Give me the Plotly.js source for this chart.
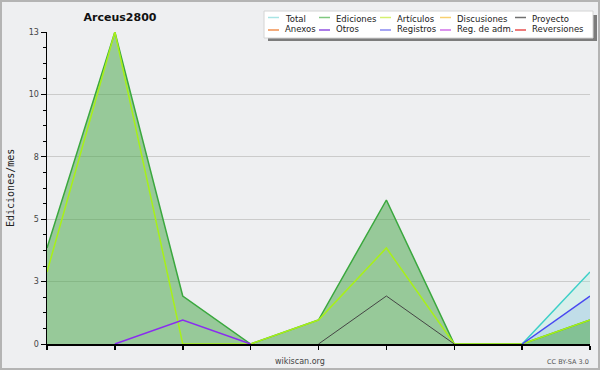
<!DOCTYPE html>
<html><head><meta charset="utf-8">
<script src="https://cdn.plot.ly/plotly-3.0.1.min.js"></script>
<style>html,body{margin:0;padding:0;background:#eeeff1;}#c{width:600px;height:370px;}</style>
</head><body><div id="c"></div>
<script>
// ---- data ----
const months = [0,1,2,3,4,5,6,7,8];
const seriesNames = ["Total","Ediciones","Artículos","Discusiones","Proyecto","Anexos","Otros","Registros","Reg. de adm.","Reversiones"];
const total       = [null,null,null,null,null,null,null,0,3];
const ediciones   = [4,13,2,0,1,6,0,0,1];
const articulos   = [3,13,0,0,1,4,0,0,1];
const discusiones = [null,null,null,null,null,null,null,null,null];
const proyecto    = [null,null,null,null,0,2,0,null,null];
const anexos      = [null,null,null,null,null,null,null,null,null];
const otros       = [null,0,1,0,null,null,null,null,null];
const registros   = [null,null,null,null,null,null,null,0,2];
const regAdm      = [null,null,null,null,null,null,null,null,null];
const reversiones = [null,null,null,null,null,null,null,null,null];
const yTickVals   = [0,2.6,5.2,7.8,10.4,13];
const yTickText   = ["0","3","5","8","10","13"];

// ---- styles ----
const lineColors = ["#3ccfc8","#3aa83e","#a8f018","#f0c040","#454545","#f08040","#8a2cf0","#4848f0","#d050e0","#e03030"];
const legendColors = ["#a8e4e4","#80c880","#d4f070","#f8d070","#707070","#f09050","#9050e0","#8888f0","#d070e8","#e85050"];
const allSeries = [total,ediciones,articulos,discusiones,proyecto,anexos,otros,registros,regAdm,reversiones];

const L=47,R=590,T=32,B=344;
const px=p=>(p-L)/(R-L), py=p=>(B-p)/(B-T);

const traces=[];
// fills first
const fills=[[0,"rgba(150,240,220,0.25)"],[7,"rgba(100,150,220,0.2)"],[1,"rgba(80,170,80,0.55)"]];
fills.forEach(([i,c])=>traces.push({x:months,y:allSeries[i],type:"scatter",mode:"none",fill:"tozeroy",fillcolor:c,showlegend:false,hoverinfo:"skip"}));
// lines
const order=[0,1,2,3,5,6,7,8,9,4];
order.forEach(i=>traces.push({x:months,y:allSeries[i],name:seriesNames[i],type:"scatter",mode:"lines",
  line:{color:lineColors[i],width:(i===4?1:1.5)},showlegend:false}));

// legend built from names/colors
const shapes=[
  {type:"rect",xref:"paper",yref:"paper",x0:px(1),x1:px(599),y0:py(1),y1:py(369),line:{color:"#b4b4b4",width:2},layer:"above"},
  {type:"rect",xref:"paper",yref:"paper",x0:px(268),x1:px(597),y0:py(15),y1:py(41),fillcolor:"#7c7c7c",line:{width:0},layer:"above"},
  {type:"rect",xref:"paper",yref:"paper",x0:px(264),x1:px(593),y0:py(11),y1:py(38),fillcolor:"#ffffff",line:{color:"#d4d4d4",width:1},layer:"above"}
];
const annotations=[];
const colX=[268,319,380,440,515];
const rowLineY=[17.5,30], rowTextY=[19,29];
seriesNames.forEach((n,i)=>{
  const col=i%5,row=Math.floor(i/5);
  shapes.push({type:"line",xref:"paper",yref:"paper",x0:px(colX[col]),x1:px(colX[col]+11),y0:py(rowLineY[row]),y1:py(rowLineY[row]),line:{color:legendColors[i],width:1.5},layer:"above"});
  annotations.push({xref:"paper",yref:"paper",x:px(colX[col]+15),y:py(rowTextY[row]),xanchor:"left",yanchor:"middle",showarrow:false,text:n,
    font:{family:"DejaVu Sans",size:8.5,color:"#222"}});
});
annotations.push({xref:"paper",yref:"paper",x:px(300),y:py(361),xanchor:"center",yanchor:"middle",showarrow:false,text:"wikiscan.org",font:{family:"DejaVu Sans",size:8,color:"#444"}});
annotations.push({xref:"paper",yref:"paper",x:px(591),y:py(362),xanchor:"right",yanchor:"middle",showarrow:false,text:"CC BY-SA 3.0",font:{family:"DejaVu Sans",size:6.5,color:"#555"}});
annotations.push({xref:"paper",yref:"paper",x:px(10),y:py(188),xanchor:"center",yanchor:"middle",showarrow:false,textangle:-90,text:"Ediciones/mes",font:{family:"DejaVu Sans Mono",size:10,color:"#222"}});

const layout={
  width:600,height:370,
  margin:{l:L,r:600-R,t:T,b:370-B,pad:0},
  paper_bgcolor:"#eeeff1",plot_bgcolor:"#eeeff1",
  title:{text:"Arceus2800",font:{family:"DejaVu Sans",size:11,color:"#111",weight:"bold"},xref:"container",yref:"container",x:120/600,y:1-17/370,xanchor:"center",yanchor:"middle"},
  xaxis:{range:[0,8],tickmode:"array",tickvals:months,showticklabels:false,ticks:"outside",ticklen:4,tickcolor:"#000",tickwidth:1.5,
    showgrid:false,zeroline:false,showline:true,linecolor:"#000",linewidth:2,fixedrange:true},
  yaxis:{range:[0,13],tickmode:"array",tickvals:yTickVals,ticktext:yTickText,ticks:"outside",ticklen:5,tickcolor:"#000",tickwidth:1,
    tickfont:{family:"DejaVu Sans",size:8,color:"#444"},showgrid:true,gridcolor:"#cbcbcb",gridwidth:1,zeroline:false,showline:true,linecolor:"#000",linewidth:1.5,
    minor:{tick0:0,dtick:0.65,ticks:"outside",ticklen:3,tickcolor:"#000",showgrid:false},fixedrange:true},
  showlegend:false,shapes:shapes,annotations:annotations
};
Plotly.newPlot("c",traces,layout,{displayModeBar:false,staticPlot:true});
</script></body></html>
